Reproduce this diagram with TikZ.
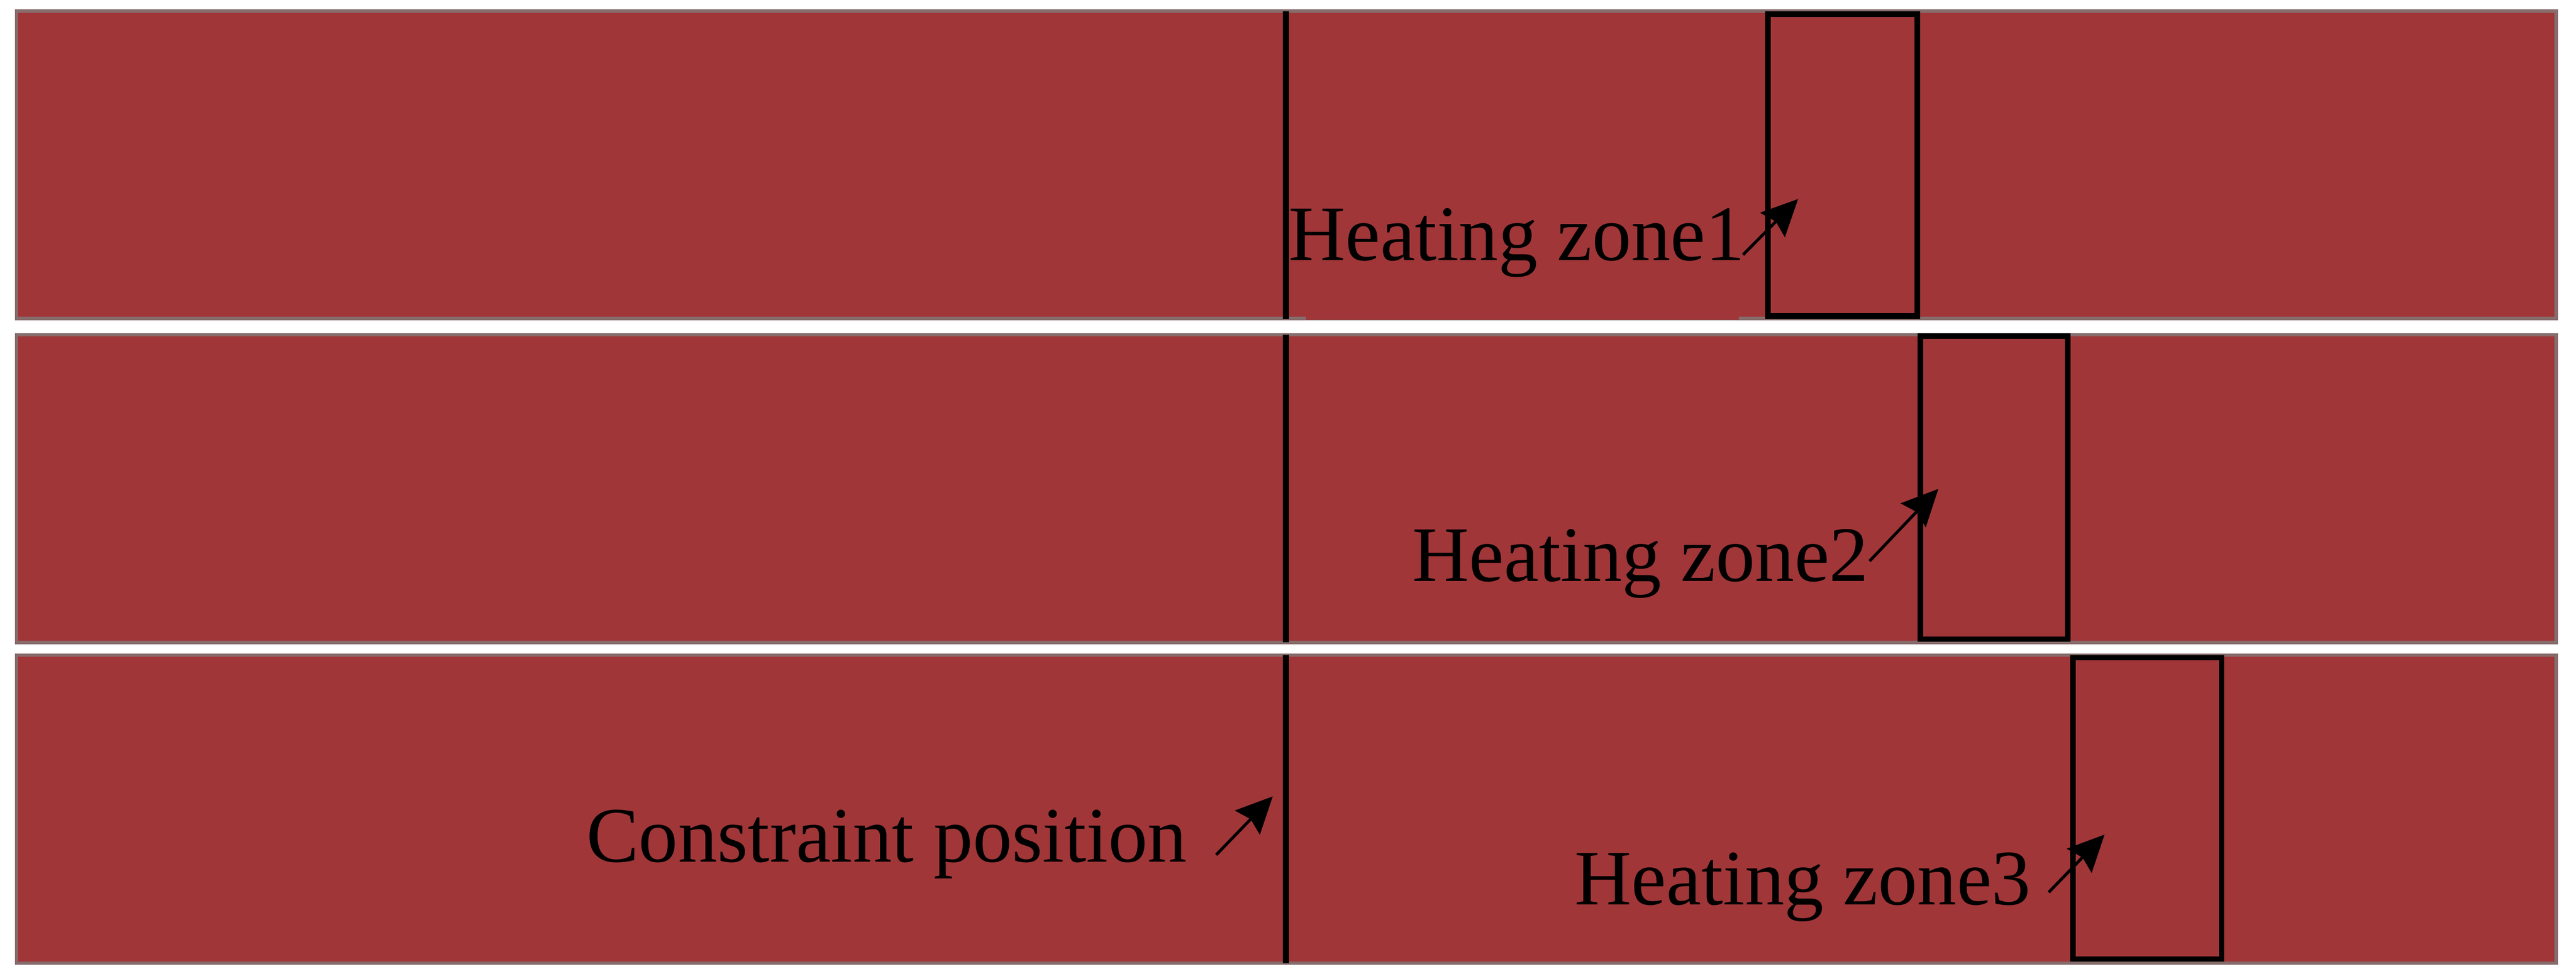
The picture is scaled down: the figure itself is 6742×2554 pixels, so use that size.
\documentclass[tikz,border=0pt]{standalone}
\usepackage{fontspec}
\setmainfont{Liberation Serif}
\usetikzlibrary{arrows.meta}
\definecolor{steel}{RGB}{160,54,56}
\definecolor{rim}{RGB}{135,108,108}
\begin{document}
\begin{tikzpicture}[x=0.01cm,y=-0.01cm,
  panel/.style={fill=steel,draw=rim,line width=2.4pt},
  cline/.style={draw=black,line width=4.6pt},
  zonebox/.style={draw=black,line width=4pt},
  lbl/.style={inner sep=0pt,anchor=base west,font=\fontsize{58.5}{70}\selectfont},
  ptr/.style={draw=black,line width=2.2pt,-{Stealth[length=0.95cm,width=0.9cm,inset=0.12cm]}}]
\useasboundingbox (0,0) rectangle (6742,2554);
\fill[white] (0,0) rectangle (6742,2554);
% panels
\draw[panel] (43,29) rectangle (6690,834);
\draw[panel] (43,876) rectangle (6690,1682);
\draw[panel] (43,1715) rectangle (6690,2521);
% text background patch in first panel
\fill[steel] (3418,800) rectangle (4551,838);
% constraint lines
\draw[cline] (3366,29) -- (3366,834);
\draw[cline] (3366,876) -- (3366,1682);
\draw[cline] (3366,1715) -- (3366,2521);
% heating zones
\draw[zonebox] (4627,37) rectangle (5018,827);
\draw[zonebox] (5026,880) rectangle (5412,1673);
\draw[zonebox] (5425,1722) rectangle (5814,2511);
% labels
\node[lbl] (t1) at (3372,682) {Heating zone1};
\node[lbl] (t2) at (3696,1522) {Heating zone2};
\node[lbl] (t3) at (4121,2369) {Heating zone3};
\node[lbl] (tc) at (1534,2256) {Constraint position};
% arrows
\coordinate (a1s) at (4562,667);  \coordinate (a1e) at (4706,521);
\coordinate (a2s) at (4893,1469); \coordinate (a2e) at (5073,1280);
\coordinate (a3s) at (5362,2336); \coordinate (a3e) at (5508,2185);
\coordinate (acs) at (3183,2238); \coordinate (ace) at (3331,2085);
\draw[ptr] (a1s) -- (a1e);
\draw[ptr] (a2s) -- (a2e);
\draw[ptr] (a3s) -- (a3e);
\draw[ptr] (acs) -- (ace);
\end{tikzpicture}
\end{document}
